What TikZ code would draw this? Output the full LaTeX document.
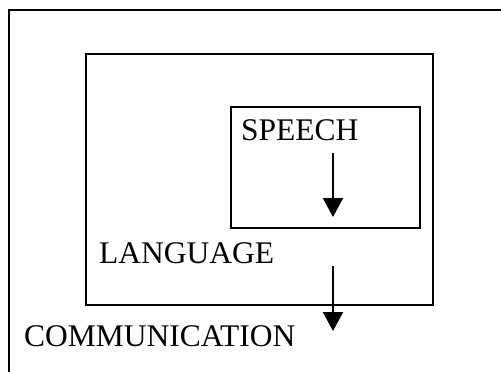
\documentclass[tikz,border=0pt]{standalone}
\usepackage{fontspec}
\setmainfont{Liberation Serif}
\usetikzlibrary{arrows.meta}

\begin{document}
\begin{tikzpicture}[
				x=1pt, y=-1pt,
				line width=2.3pt,
				box/.style={draw, line width=2.3pt, anchor=north west, inner sep=0pt},
				boxtext/.style={anchor=base west, inner sep=0pt, font=\fontsize{31.5}{38}\selectfont},
				arrow/.style={line width=2pt, -{Triangle[length=19pt, width=20pt]}},
			]
				\useasboundingbox (0,0) rectangle (501,372);
				\coordinate (frametr) at (501,10);
				\coordinate (frametl) at (9,10);
				\coordinate (framebl) at (9,372);
				\draw (frametr) -- (frametl) -- (framebl);

				\node (lang) [box, minimum width=347pt, minimum height=251pt] at (85,53) {};
				\node (speech) [box, minimum width=189pt, minimum height=121pt] at (230,106) {};

				\node (speechtxt) [boxtext] at (240,140) {SPEECH};
				\node (langtxt) [boxtext] at (98,263) {LANGUAGE};
				\node (commtxt) [boxtext] at (23,346) {COMMUNICATION};

				\coordinate (speechout) at (333,153);
				\coordinate (langin) at (333,217);
				\coordinate (langout) at (333,266);
				\coordinate (commin) at (333,331);

				\draw[arrow] (speechout) -- (langin);
				\draw[arrow] (langout) -- (commin);
			\end{tikzpicture}
\end{document}
